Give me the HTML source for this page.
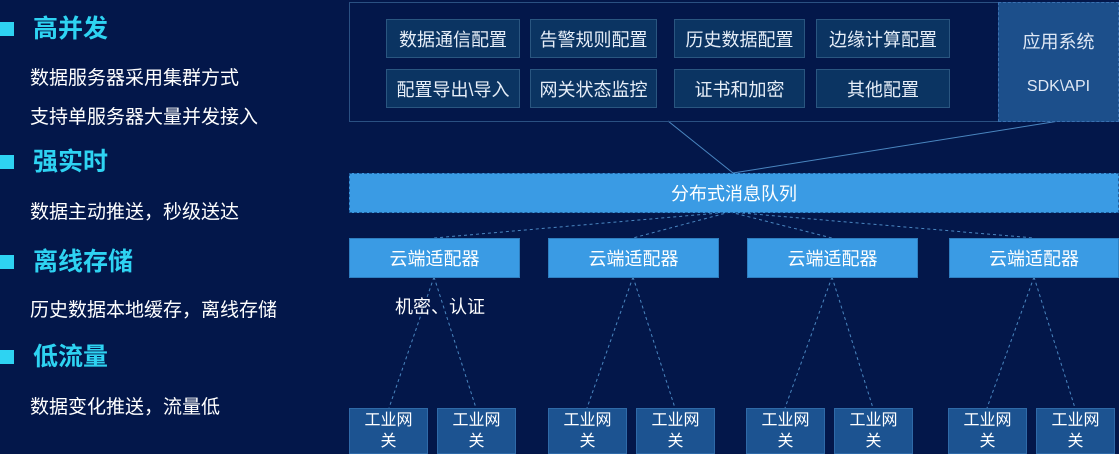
<!DOCTYPE html>
<html><head><meta charset="utf-8"><style>
body{margin:0;width:1119px;height:454px;overflow:hidden;background:#03174a;font-family:"Liberation Sans","Noto Sans CJK SC",sans-serif;position:relative}
.a{position:absolute;box-sizing:border-box;display:flex;align-items:center;justify-content:center;color:#fff}
.h{position:absolute;left:33px;color:#2ed3f2;font-size:25px;font-weight:bold;line-height:30px}
.sq{position:absolute;left:0;width:14px;height:14px;background:#2ed3f2}
.t{position:absolute;left:30px;color:#fff;font-size:19px;line-height:24px}
.c{background:#0b3462;border:1px solid #2a5680;font-size:18px;color:#e6eef8;height:39px}
.ad{background:#3a9be4;border:1px solid #2f7fc0;font-size:18px;height:40px;top:238px}
.g{background:#1c5391;border:1px solid #2f6aa8;font-size:16px;line-height:21px;height:46px;top:408px;width:79px;text-align:center}
</style></head><body>
<div class="sq" style="top:22px"></div><div class="h" style="top:14px">高并发</div>
<div class="t" style="top:67px">数据服务器采用集群方式</div>
<div class="t" style="top:106px">支持单服务器大量并发接入</div>
<div class="sq" style="top:155px"></div><div class="h" style="top:147px">强实时</div>
<div class="t" style="top:201px">数据主动推送，秒级送达</div>
<div class="sq" style="top:255px"></div><div class="h" style="top:247px">离线存储</div>
<div class="t" style="top:299px">历史数据本地缓存，离线存储</div>
<div class="sq" style="top:350px"></div><div class="h" style="top:342px">低流量</div>
<div class="t" style="top:396px">数据变化推送，流量低</div>

<svg width="1119" height="454" style="position:absolute;left:0;top:0">
<line x1="668" y1="121" x2="733" y2="173" stroke="#4a86c0" stroke-width="1"/>
<line x1="1059" y1="121" x2="733" y2="173" stroke="#4a86c0" stroke-width="1"/>
<g stroke="#4a86c0" stroke-dasharray="3,3" stroke-width="1">
<line x1="730" y1="212" x2="434" y2="238"/><line x1="730" y1="212" x2="633" y2="238"/>
<line x1="730" y1="212" x2="832" y2="238"/><line x1="730" y1="212" x2="1034" y2="238"/>
<line x1="434" y1="277" x2="389" y2="408"/><line x1="434" y1="277" x2="476" y2="408"/>
<line x1="633" y1="277" x2="587" y2="408"/><line x1="633" y1="277" x2="675" y2="408"/>
<line x1="832" y1="277" x2="785" y2="408"/><line x1="832" y1="277" x2="873" y2="408"/>
<line x1="1034" y1="277" x2="987" y2="408"/><line x1="1034" y1="277" x2="1075" y2="408"/>
</g></svg>

<div class="a" style="left:349px;top:2px;width:666px;height:120px;border:1px solid #2a5082"></div>
<div class="a c" style="left:386px;top:19px;width:134px">数据通信配置</div>
<div class="a c" style="left:530px;top:19px;width:127px">告警规则配置</div>
<div class="a c" style="left:674px;top:19px;width:131px">历史数据配置</div>
<div class="a c" style="left:816px;top:19px;width:134px">边缘计算配置</div>
<div class="a c" style="left:386px;top:69px;width:134px">配置导出\导入</div>
<div class="a c" style="left:530px;top:69px;width:127px">网关状态监控</div>
<div class="a c" style="left:674px;top:69px;width:131px">证书和加密</div>
<div class="a c" style="left:816px;top:69px;width:134px">其他配置</div>
<div class="a" style="left:998px;top:2px;width:121px;height:120px;background:#1c4f8b;border:1px dashed #3a70b0;flex-direction:column;font-size:18px;color:#dfe8f5"><div style="margin-bottom:24px">应用系统</div><div style="font-size:16px">SDK\API</div></div>
<div class="a" style="left:349px;top:173px;width:770px;height:40px;background:#3a9be4;border:1px dashed #1e5c9c;font-size:18px">分布式消息队列</div>
<div class="a ad" style="left:349px;width:171px">云端适配器</div>
<div class="a ad" style="left:548px;width:171px">云端适配器</div>
<div class="a ad" style="left:747px;width:171px">云端适配器</div>
<div class="a ad" style="left:949px;width:170px">云端适配器</div>
<div style="position:absolute;left:395px;top:293px;color:#fff;font-size:18px">机密、认证</div>
<div class="a g" style="left:349px">工业网<br>关</div><div class="a g" style="left:437px">工业网<br>关</div>
<div class="a g" style="left:548px">工业网<br>关</div><div class="a g" style="left:636px">工业网<br>关</div>
<div class="a g" style="left:746px">工业网<br>关</div><div class="a g" style="left:834px">工业网<br>关</div>
<div class="a g" style="left:948px">工业网<br>关</div><div class="a g" style="left:1036px">工业网<br>关</div>
</body></html>
